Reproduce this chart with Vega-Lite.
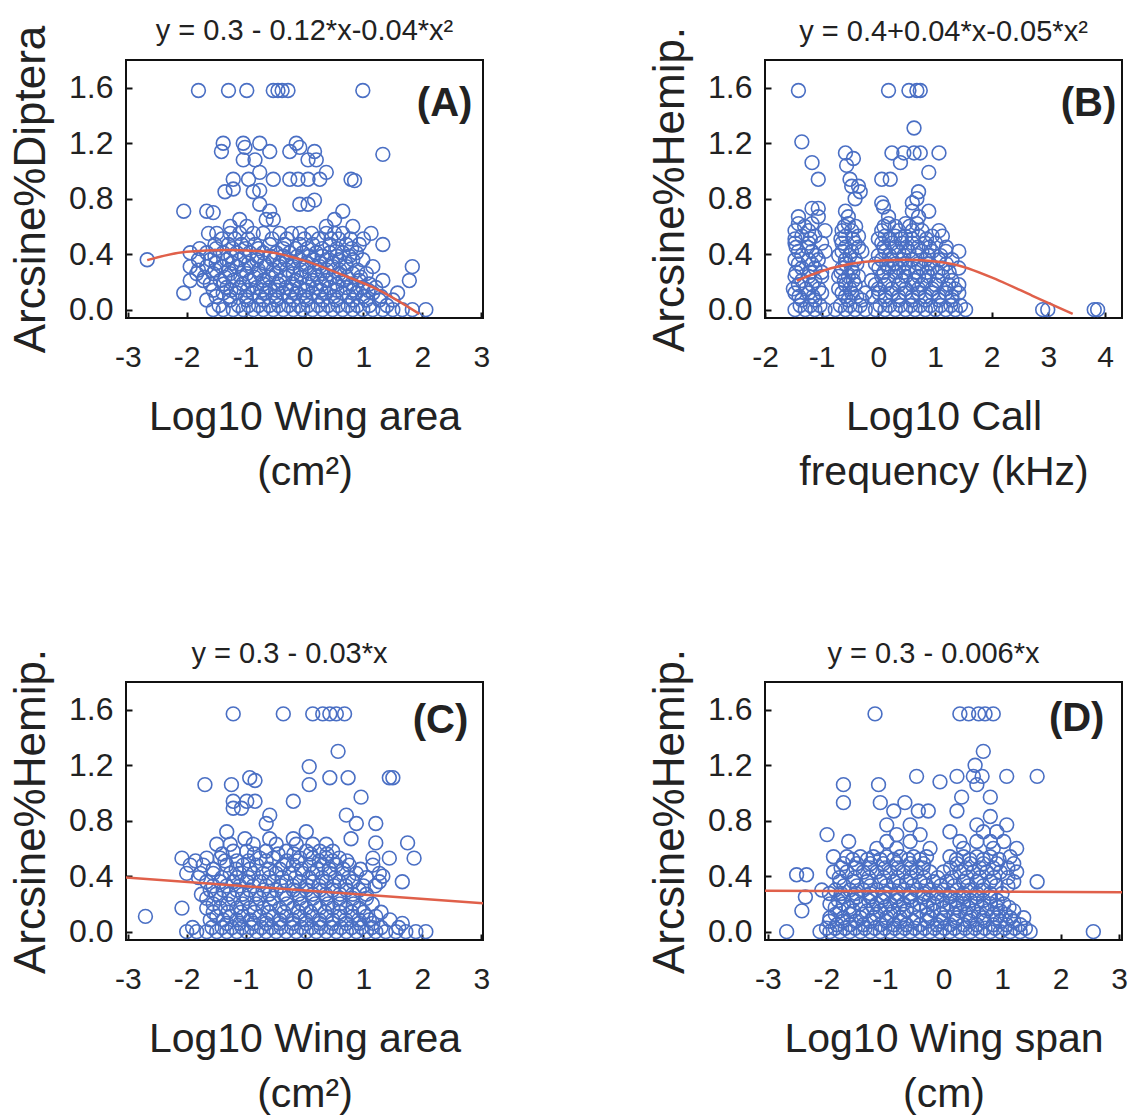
{
"$schema": "https://vega.github.io/schema/vega-lite/v6.json",
"background": "white",
"padding": {"left": 8, "top": 16, "right": 5, "bottom": 5},
"columns": 2,
"spacing": {"row": 364, "column": 282},
"bounds": "flush",
"datasets": {
"A": [
{"x":-1.8,"y":1.58},{"x":-1.29,"y":1.58},{"x":-0.98,"y":1.58},{"x":-0.53,"y":1.58},{"x":-0.45,"y":1.58},{"x":-0.38,"y":1.58},{"x":-0.28,"y":1.58},{"x":0.99,"y":1.58},
{"x":-1.38,"y":1.2},{"x":-1.04,"y":1.2},{"x":-0.76,"y":1.2},{"x":-0.14,"y":1.2},
{"x":-1.41,"y":1.14},{"x":-0.59,"y":1.14},{"x":-0.25,"y":1.14},{"x":0.17,"y":1.14},{"x":1.33,"y":1.12},
{"x":-1.01,"y":1.17},{"x":-0.08,"y":1.17},
{"x":-1.04,"y":1.08},{"x":-0.84,"y":1.08},{"x":0.06,"y":1.08},{"x":0.2,"y":1.08},
{"x":-0.76,"y":0.99},{"x":0.37,"y":0.99},
{"x":-1.21,"y":0.94},{"x":-0.95,"y":0.94},{"x":-0.53,"y":0.94},{"x":-0.25,"y":0.94},{"x":-0.11,"y":0.94},{"x":0.06,"y":0.94},{"x":0.26,"y":0.94},{"x":0.79,"y":0.94},{"x":0.85,"y":0.93},
{"x":-1.35,"y":0.85},{"x":-1.21,"y":0.87},{"x":-0.87,"y":0.85},{"x":-0.76,"y":0.86},
{"x":-0.76,"y":0.76},{"x":-0.08,"y":0.76},{"x":0.06,"y":0.76},{"x":0.17,"y":0.79},
{"x":-2.05,"y":0.71},{"x":-1.66,"y":0.71},{"x":-1.55,"y":0.7},{"x":-0.59,"y":0.71},{"x":0.65,"y":0.71},
{"x":-1.1,"y":0.65},{"x":-0.65,"y":0.65},{"x":-0.53,"y":0.65},{"x":0.51,"y":0.65},
{"x":-1.26,"y":0.6},{"x":-0.98,"y":0.6},{"x":0.37,"y":0.6},{"x":0.82,"y":0.6},
{"x":-1.63,"y":0.55},{"x":-1.49,"y":0.55},{"x":-1.26,"y":0.55},{"x":-1.1,"y":0.55},{"x":-0.87,"y":0.55},{"x":-0.7,"y":0.55},{"x":-0.42,"y":0.55},{"x":-0.22,"y":0.55},{"x":-0.08,"y":0.55},{"x":0.12,"y":0.55},{"x":0.37,"y":0.55},{"x":0.51,"y":0.55},{"x":0.65,"y":0.55},{"x":1.13,"y":0.55},
{"x":-1.52,"y":0.47},{"x":-1.29,"y":0.47},{"x":-1.07,"y":0.47},{"x":-0.84,"y":0.47},{"x":-0.59,"y":0.47},{"x":-0.34,"y":0.47},{"x":-0.08,"y":0.47},{"x":0.14,"y":0.47},{"x":0.43,"y":0.47},{"x":0.71,"y":0.47},{"x":0.93,"y":0.47},{"x":1.33,"y":0.47},
{"x":-1.94,"y":0.41},{"x":-1.66,"y":0.41},{"x":-1.38,"y":0.41},{"x":-1.15,"y":0.41},{"x":-0.93,"y":0.41},{"x":-0.7,"y":0.41},{"x":-0.48,"y":0.41},{"x":-0.25,"y":0.41},{"x":-0.03,"y":0.41},{"x":0.2,"y":0.41},{"x":0.43,"y":0.41},{"x":0.65,"y":0.41},{"x":0.88,"y":0.41},
{"x":-2.67,"y":0.36},{"x":-1.8,"y":0.36},{"x":-1.6,"y":0.36},{"x":-1.32,"y":0.36},{"x":-1.1,"y":0.36},{"x":-0.81,"y":0.36},{"x":-0.53,"y":0.36},{"x":-0.31,"y":0.36},{"x":-0.08,"y":0.36},{"x":0.14,"y":0.36},{"x":0.37,"y":0.36},{"x":0.59,"y":0.36},{"x":0.82,"y":0.36},{"x":0.99,"y":0.36},
{"x":-1.94,"y":0.31},{"x":-1.66,"y":0.31},{"x":-1.41,"y":0.31},{"x":-1.15,"y":0.31},{"x":-0.9,"y":0.31},{"x":-0.65,"y":0.31},{"x":-0.42,"y":0.31},{"x":-0.19,"y":0.31},{"x":0.03,"y":0.31},{"x":0.26,"y":0.31},{"x":0.48,"y":0.31},{"x":0.71,"y":0.31},{"x":1.16,"y":0.31},{"x":1.83,"y":0.31},
{"x":-1.83,"y":0.26},{"x":-1.55,"y":0.26},{"x":-1.26,"y":0.26},{"x":-0.98,"y":0.26},{"x":-0.76,"y":0.26},{"x":-0.48,"y":0.26},{"x":-0.19,"y":0.26},{"x":0.09,"y":0.26},{"x":0.31,"y":0.26},{"x":0.59,"y":0.26},{"x":0.82,"y":0.26},{"x":1.05,"y":0.26},
{"x":-1.94,"y":0.21},{"x":-1.72,"y":0.21},{"x":-1.43,"y":0.21},{"x":-1.21,"y":0.21},{"x":-0.93,"y":0.21},{"x":-0.7,"y":0.21},{"x":-0.42,"y":0.21},{"x":-0.14,"y":0.21},{"x":0.14,"y":0.21},{"x":0.37,"y":0.21},{"x":0.65,"y":0.21},{"x":0.93,"y":0.21},{"x":1.33,"y":0.21},{"x":1.78,"y":0.21},
{"x":-1.32,"y":0.16},{"x":-1.1,"y":0.16},{"x":-0.81,"y":0.16},{"x":-0.59,"y":0.16},{"x":-0.31,"y":0.16},{"x":-0.08,"y":0.16},{"x":0.2,"y":0.16},{"x":0.43,"y":0.16},{"x":0.71,"y":0.16},{"x":0.99,"y":0.16},{"x":1.21,"y":0.16},
{"x":-2.05,"y":0.12},{"x":-1.38,"y":0.12},{"x":-1.15,"y":0.12},{"x":-0.87,"y":0.12},{"x":-0.65,"y":0.12},{"x":-0.36,"y":0.12},{"x":-0.14,"y":0.12},{"x":0.14,"y":0.12},{"x":0.37,"y":0.12},{"x":0.65,"y":0.12},{"x":0.88,"y":0.12},{"x":1.16,"y":0.12},{"x":1.58,"y":0.12},
{"x":-1.66,"y":0.07},{"x":-1.26,"y":0.07},{"x":-0.98,"y":0.07},{"x":-0.7,"y":0.07},{"x":-0.48,"y":0.07},{"x":-0.19,"y":0.07},{"x":0.03,"y":0.07},{"x":0.31,"y":0.07},{"x":0.54,"y":0.07},{"x":0.82,"y":0.07},{"x":1.05,"y":0.07},{"x":1.27,"y":0.07},{"x":1.5,"y":0.07},
{"x":-1.55,"y":0},{"x":-1.38,"y":0},{"x":-1.21,"y":0},{"x":-1.04,"y":0},{"x":-0.87,"y":0},{"x":-0.7,"y":0},{"x":-0.53,"y":0},{"x":-0.36,"y":0},{"x":-0.19,"y":0},{"x":-0.03,"y":0},{"x":0.14,"y":0},{"x":0.31,"y":0},{"x":0.48,"y":0},{"x":0.65,"y":0},{"x":0.82,"y":0},{"x":0.99,"y":0},{"x":1.16,"y":0},{"x":1.33,"y":0},{"x":1.5,"y":0},{"x":1.66,"y":0},{"x":1.83,"y":0},{"x":2.06,"y":0},
{"x":-1.45,"y":0.03},{"x":-1.12,"y":0.03},{"x":-0.95,"y":0.03},{"x":-0.78,"y":0.03},{"x":-0.6,"y":0.03},{"x":-0.44,"y":0.03},{"x":-0.27,"y":0.03},{"x":-0.1,"y":0.03},{"x":0.06,"y":0.03},{"x":0.23,"y":0.03},{"x":0.4,"y":0.03},{"x":0.57,"y":0.03},{"x":0.74,"y":0.03},{"x":0.9,"y":0.03},{"x":1.1,"y":0.03},{"x":1.4,"y":0.03},
{"x":-1.5,"y":0.095},{"x":-1.27,"y":0.095},{"x":-1.0,"y":0.095},{"x":-0.76,"y":0.095},{"x":-0.5,"y":0.095},{"x":-0.25,"y":0.095},{"x":0.0,"y":0.095},{"x":0.25,"y":0.095},{"x":0.5,"y":0.095},{"x":0.76,"y":0.095},{"x":1.0,"y":0.095},{"x":1.3,"y":0.095},
{"x":-1.55,"y":0.14},{"x":-1.25,"y":0.14},{"x":-0.97,"y":0.14},{"x":-0.72,"y":0.14},{"x":-0.47,"y":0.14},{"x":-0.22,"y":0.14},{"x":0.03,"y":0.14},{"x":0.28,"y":0.14},{"x":0.55,"y":0.14},{"x":0.83,"y":0.14},{"x":1.08,"y":0.14},
{"x":-1.6,"y":0.185},{"x":-1.37,"y":0.185},{"x":-1.05,"y":0.185},{"x":-0.7,"y":0.185},{"x":-0.45,"y":0.185},{"x":-0.2,"y":0.185},{"x":0.05,"y":0.185},{"x":0.3,"y":0.185},{"x":0.55,"y":0.185},{"x":0.8,"y":0.185},{"x":1.1,"y":0.185},
{"x":-1.7,"y":0.235},{"x":-1.35,"y":0.235},{"x":-1.08,"y":0.235},{"x":-0.85,"y":0.235},{"x":-0.6,"y":0.235},{"x":-0.33,"y":0.235},{"x":-0.05,"y":0.235},{"x":0.22,"y":0.235},{"x":0.48,"y":0.235},{"x":0.72,"y":0.235},{"x":0.95,"y":0.235},
{"x":-1.8,"y":0.285},{"x":-1.52,"y":0.285},{"x":-1.28,"y":0.285},{"x":-1.02,"y":0.285},{"x":-0.78,"y":0.285},{"x":-0.53,"y":0.285},{"x":-0.3,"y":0.285},{"x":-0.06,"y":0.285},{"x":0.17,"y":0.285},{"x":0.38,"y":0.285},{"x":0.6,"y":0.285},{"x":0.9,"y":0.285},
{"x":-1.5,"y":0.335},{"x":-1.22,"y":0.335},{"x":-0.95,"y":0.335},{"x":-0.68,"y":0.335},{"x":-0.42,"y":0.335},{"x":-0.2,"y":0.335},{"x":0.03,"y":0.335},{"x":0.26,"y":0.335},{"x":0.48,"y":0.335},{"x":0.7,"y":0.335},
{"x":-1.52,"y":0.385},{"x":-1.25,"y":0.385},{"x":-1.02,"y":0.385},{"x":-0.8,"y":0.385},{"x":-0.58,"y":0.385},{"x":-0.36,"y":0.385},{"x":-0.12,"y":0.385},{"x":0.08,"y":0.385},{"x":0.3,"y":0.385},{"x":0.55,"y":0.385},{"x":0.76,"y":0.385},
{"x":-1.78,"y":0.44},{"x":-1.5,"y":0.44},{"x":-1.22,"y":0.44},{"x":-1.0,"y":0.44},{"x":-0.78,"y":0.44},{"x":-0.36,"y":0.44},{"x":-0.15,"y":0.44},{"x":0.05,"y":0.44},{"x":0.3,"y":0.44},{"x":0.55,"y":0.44},{"x":0.8,"y":0.44},
{"x":-1.4,"y":0.51},{"x":-1.18,"y":0.51},{"x":-0.96,"y":0.51},{"x":-0.55,"y":0.51},{"x":-0.3,"y":0.51},{"x":0.0,"y":0.51},{"x":0.24,"y":0.51},{"x":0.45,"y":0.51},{"x":0.58,"y":0.51},{"x":0.78,"y":0.51},{"x":1.0,"y":0.51}
],
"B": [
{"x":-1.41,"y":1.58},{"x":0.18,"y":1.58},{"x":0.54,"y":1.58},{"x":0.68,"y":1.58},{"x":0.74,"y":1.58},
{"x":0.63,"y":1.31},{"x":-1.35,"y":1.21},
{"x":-0.58,"y":1.13},{"x":0.24,"y":1.13},{"x":0.45,"y":1.13},{"x":0.63,"y":1.13},{"x":0.74,"y":1.13},{"x":1.07,"y":1.13},
{"x":-0.44,"y":1.09},{"x":-0.56,"y":1.04},{"x":-1.17,"y":1.06},{"x":0.39,"y":1.06},
{"x":0.89,"y":0.99},
{"x":-1.06,"y":0.94},{"x":-0.5,"y":0.94},{"x":0.06,"y":0.94},{"x":0.21,"y":0.94},
{"x":-0.47,"y":0.89},{"x":-0.35,"y":0.89},
{"x":-0.32,"y":0.85},{"x":0.71,"y":0.85},
{"x":-0.41,"y":0.8},{"x":0.68,"y":0.8},
{"x":0.06,"y":0.77},{"x":0.6,"y":0.77},{"x":0.09,"y":0.74},
{"x":-1.06,"y":0.73},{"x":-1.17,"y":0.73},
{"x":-0.58,"y":0.71},{"x":0.6,"y":0.71},{"x":0.89,"y":0.71},
{"x":-1.41,"y":0.67},{"x":-1.06,"y":0.67},{"x":-0.53,"y":0.67},{"x":0.18,"y":0.67},{"x":0.71,"y":0.67},
{"x":-1.41,"y":0.62},{"x":-1.17,"y":0.62},{"x":-0.53,"y":0.62},{"x":0.18,"y":0.62},{"x":0.48,"y":0.62},{"x":0.68,"y":0.62},
{"x":-1.47,"y":0.57},{"x":-1.23,"y":0.57},{"x":-0.94,"y":0.57},{"x":-0.64,"y":0.57},{"x":-0.47,"y":0.57},{"x":0.06,"y":0.57},{"x":0.36,"y":0.57},{"x":0.6,"y":0.57},{"x":0.77,"y":0.57},{"x":1.07,"y":0.57},
{"x":-1.35,"y":0.53},{"x":-1.12,"y":0.53},{"x":-0.58,"y":0.53},{"x":-0.35,"y":0.53},{"x":0.12,"y":0.53},{"x":0.3,"y":0.53},{"x":0.48,"y":0.53},{"x":0.71,"y":0.53},{"x":0.95,"y":0.53},{"x":1.13,"y":0.53},
{"x":-1.47,"y":0.48},{"x":-1.23,"y":0.48},{"x":-1.0,"y":0.48},{"x":-0.64,"y":0.48},{"x":-0.41,"y":0.48},{"x":0.06,"y":0.48},{"x":0.24,"y":0.48},{"x":0.42,"y":0.48},{"x":0.6,"y":0.48},{"x":0.83,"y":0.48},{"x":1.01,"y":0.48},
{"x":-1.41,"y":0.42},{"x":-1.17,"y":0.42},{"x":-0.94,"y":0.42},{"x":-0.64,"y":0.42},{"x":-0.47,"y":0.42},{"x":-0.29,"y":0.42},{"x":0.12,"y":0.42},{"x":0.36,"y":0.42},{"x":0.54,"y":0.42},{"x":0.77,"y":0.42},{"x":0.95,"y":0.42},{"x":1.19,"y":0.42},{"x":1.42,"y":0.42},
{"x":-1.47,"y":0.36},{"x":-1.23,"y":0.36},{"x":-1.06,"y":0.36},{"x":-0.58,"y":0.36},{"x":-0.41,"y":0.36},{"x":0.06,"y":0.36},{"x":0.24,"y":0.36},{"x":0.42,"y":0.36},{"x":0.6,"y":0.36},{"x":0.83,"y":0.36},{"x":1.07,"y":0.36},{"x":1.3,"y":0.36},
{"x":-1.35,"y":0.3},{"x":-1.12,"y":0.3},{"x":-0.64,"y":0.3},{"x":-0.47,"y":0.3},{"x":0.01,"y":0.3},{"x":0.18,"y":0.3},{"x":0.36,"y":0.3},{"x":0.54,"y":0.3},{"x":0.77,"y":0.3},{"x":0.95,"y":0.3},{"x":1.13,"y":0.3},{"x":1.42,"y":0.3},
{"x":-1.47,"y":0.24},{"x":-1.23,"y":0.24},{"x":-1.0,"y":0.24},{"x":-0.7,"y":0.24},{"x":-0.53,"y":0.24},{"x":-0.35,"y":0.24},{"x":0.06,"y":0.24},{"x":0.3,"y":0.24},{"x":0.48,"y":0.24},{"x":0.71,"y":0.24},{"x":0.89,"y":0.24},{"x":1.13,"y":0.24},
{"x":-1.41,"y":0.18},{"x":-1.17,"y":0.18},{"x":-0.58,"y":0.18},{"x":-0.41,"y":0.18},{"x":-0.05,"y":0.18},{"x":0.12,"y":0.18},{"x":0.36,"y":0.18},{"x":0.6,"y":0.18},{"x":0.77,"y":0.18},{"x":1.01,"y":0.18},{"x":1.24,"y":0.18},{"x":1.42,"y":0.18},
{"x":-1.47,"y":0.12},{"x":-1.23,"y":0.12},{"x":-1.0,"y":0.12},{"x":-0.64,"y":0.12},{"x":-0.47,"y":0.12},{"x":-0.23,"y":0.12},{"x":0.01,"y":0.12},{"x":0.24,"y":0.12},{"x":0.48,"y":0.12},{"x":0.71,"y":0.12},{"x":0.95,"y":0.12},{"x":1.19,"y":0.12},{"x":1.42,"y":0.12},
{"x":-1.35,"y":0.07},{"x":-1.12,"y":0.07},{"x":-0.53,"y":0.07},{"x":-0.29,"y":0.07},{"x":0.12,"y":0.07},{"x":0.36,"y":0.07},{"x":0.6,"y":0.07},{"x":0.83,"y":0.07},{"x":1.07,"y":0.07},{"x":1.3,"y":0.07},
{"x":-1.47,"y":0},{"x":-1.29,"y":0},{"x":-1.12,"y":0},{"x":-0.94,"y":0},{"x":-0.76,"y":0},{"x":-0.58,"y":0},{"x":-0.41,"y":0},{"x":-0.23,"y":0},{"x":-0.05,"y":0},{"x":0.12,"y":0},{"x":0.3,"y":0},{"x":0.48,"y":0},{"x":0.65,"y":0},{"x":0.83,"y":0},{"x":1.01,"y":0},{"x":1.19,"y":0},{"x":1.36,"y":0},{"x":1.54,"y":0},{"x":2.9,"y":0},{"x":2.99,"y":0},{"x":3.81,"y":0},{"x":3.87,"y":0},
{"x":-1.38,"y":0.03},{"x":-1.2,"y":0.03},{"x":-1.03,"y":0.03},{"x":-0.67,"y":0.03},{"x":-0.5,"y":0.03},{"x":-0.32,"y":0.03},{"x":0.03,"y":0.03},{"x":0.2,"y":0.03},{"x":0.39,"y":0.03},{"x":0.57,"y":0.03},{"x":0.74,"y":0.03},{"x":0.92,"y":0.03},{"x":1.1,"y":0.03},{"x":1.28,"y":0.03},{"x":1.45,"y":0.03},
{"x":-1.4,"y":0.095},{"x":-1.15,"y":0.095},{"x":-0.58,"y":0.095},{"x":-0.38,"y":0.095},{"x":-0.1,"y":0.095},{"x":0.12,"y":0.095},{"x":0.36,"y":0.095},{"x":0.6,"y":0.095},{"x":0.83,"y":0.095},{"x":1.07,"y":0.095},{"x":1.3,"y":0.095},
{"x":-1.5,"y":0.15},{"x":-1.28,"y":0.15},{"x":-1.05,"y":0.15},{"x":-0.7,"y":0.15},{"x":-0.5,"y":0.15},{"x":0.0,"y":0.15},{"x":0.24,"y":0.15},{"x":0.48,"y":0.15},{"x":0.71,"y":0.15},{"x":0.95,"y":0.15},{"x":1.2,"y":0.15},{"x":1.35,"y":0.15},
{"x":-1.35,"y":0.21},{"x":-1.12,"y":0.21},{"x":-0.6,"y":0.21},{"x":-0.44,"y":0.21},{"x":-0.12,"y":0.21},{"x":0.18,"y":0.21},{"x":0.42,"y":0.21},{"x":0.64,"y":0.21},{"x":0.83,"y":0.21},{"x":1.05,"y":0.21},{"x":1.3,"y":0.21},
{"x":-1.45,"y":0.27},{"x":-1.2,"y":0.27},{"x":-1.0,"y":0.27},{"x":-0.66,"y":0.27},{"x":-0.45,"y":0.27},{"x":0.1,"y":0.27},{"x":0.3,"y":0.27},{"x":0.45,"y":0.27},{"x":0.66,"y":0.27},{"x":0.86,"y":0.27},{"x":1.05,"y":0.27},{"x":1.25,"y":0.27},
{"x":-1.41,"y":0.33},{"x":-1.17,"y":0.33},{"x":-0.58,"y":0.33},{"x":-0.38,"y":0.33},{"x":-0.05,"y":0.33},{"x":0.15,"y":0.33},{"x":0.3,"y":0.33},{"x":0.48,"y":0.33},{"x":0.7,"y":0.33},{"x":0.9,"y":0.33},{"x":1.2,"y":0.33},
{"x":-1.35,"y":0.39},{"x":-1.1,"y":0.39},{"x":-0.7,"y":0.39},{"x":-0.5,"y":0.39},{"x":0.0,"y":0.39},{"x":0.2,"y":0.39},{"x":0.45,"y":0.39},{"x":0.68,"y":0.39},{"x":0.88,"y":0.39},{"x":1.1,"y":0.39},
{"x":-1.45,"y":0.45},{"x":-1.25,"y":0.45},{"x":-0.58,"y":0.45},{"x":-0.35,"y":0.45},{"x":0.1,"y":0.45},{"x":0.3,"y":0.45},{"x":0.5,"y":0.45},{"x":0.7,"y":0.45},{"x":0.9,"y":0.45},{"x":1.2,"y":0.45},
{"x":-1.47,"y":0.51},{"x":-1.2,"y":0.51},{"x":-0.66,"y":0.51},{"x":-0.45,"y":0.51},{"x":0.0,"y":0.51},{"x":0.2,"y":0.51},{"x":0.4,"y":0.51},{"x":0.6,"y":0.51},{"x":0.85,"y":0.51},
{"x":-1.3,"y":0.6},{"x":-0.6,"y":0.6},{"x":-0.4,"y":0.6},{"x":0.1,"y":0.6},{"x":0.3,"y":0.6},{"x":0.55,"y":0.6}
],
"C": [
{"x":-1.21,"y":1.57},{"x":-0.36,"y":1.57},{"x":0.14,"y":1.57},{"x":0.31,"y":1.57},{"x":0.43,"y":1.57},{"x":0.54,"y":1.57},{"x":0.68,"y":1.57},
{"x":0.57,"y":1.3},{"x":0.08,"y":1.19},
{"x":-0.93,"y":1.11},{"x":-0.84,"y":1.09},{"x":0.43,"y":1.11},{"x":0.74,"y":1.11},{"x":1.44,"y":1.11},{"x":1.5,"y":1.11},
{"x":-1.69,"y":1.06},{"x":-1.24,"y":1.06},{"x":0.08,"y":1.06},
{"x":0.96,"y":0.97},
{"x":-1.21,"y":0.94},{"x":-0.98,"y":0.94},{"x":-0.84,"y":0.94},{"x":-0.19,"y":0.94},
{"x":-1.21,"y":0.89},{"x":-1.07,"y":0.89},
{"x":-0.59,"y":0.84},{"x":0.71,"y":0.84},
{"x":-0.65,"y":0.78},{"x":0.88,"y":0.78},{"x":1.21,"y":0.78},
{"x":-1.32,"y":0.72},{"x":0.03,"y":0.72},
{"x":-1.01,"y":0.67},{"x":-0.59,"y":0.67},{"x":-0.19,"y":0.67},{"x":0.79,"y":0.67},
{"x":1.21,"y":0.64},{"x":1.75,"y":0.64},
{"x":-1.49,"y":0.63},{"x":-1.26,"y":0.63},{"x":-0.87,"y":0.63},{"x":-0.48,"y":0.63},{"x":-0.14,"y":0.63},{"x":0.14,"y":0.63},{"x":0.37,"y":0.63},
{"x":-1.21,"y":0.58},{"x":-0.98,"y":0.58},{"x":-0.65,"y":0.58},{"x":-0.31,"y":0.58},{"x":0.03,"y":0.58},{"x":0.26,"y":0.58},{"x":0.48,"y":0.58},
{"x":-2.08,"y":0.53},{"x":-1.66,"y":0.53},{"x":-1.43,"y":0.53},{"x":-0.76,"y":0.53},{"x":-0.53,"y":0.53},{"x":-0.08,"y":0.53},{"x":0.14,"y":0.53},{"x":0.37,"y":0.53},{"x":0.59,"y":0.53},{"x":1.16,"y":0.53},{"x":1.44,"y":0.53},{"x":1.86,"y":0.53},
{"x":-1.94,"y":0.48},{"x":-1.72,"y":0.48},{"x":-1.32,"y":0.48},{"x":-1.04,"y":0.48},{"x":-0.81,"y":0.48},{"x":-0.36,"y":0.48},{"x":-0.19,"y":0.48},{"x":0.09,"y":0.48},{"x":0.31,"y":0.48},{"x":0.54,"y":0.48},{"x":0.76,"y":0.48},{"x":1.16,"y":0.48},
{"x":-2.0,"y":0.42},{"x":-1.77,"y":0.42},{"x":-1.55,"y":0.42},{"x":-1.26,"y":0.42},{"x":-1.1,"y":0.42},{"x":-0.87,"y":0.42},{"x":-0.7,"y":0.42},{"x":-0.48,"y":0.42},{"x":-0.25,"y":0.42},{"x":-0.03,"y":0.42},{"x":0.14,"y":0.42},{"x":0.43,"y":0.42},{"x":0.65,"y":0.42},{"x":0.88,"y":0.42},{"x":1.27,"y":0.42},{"x":1.33,"y":0.4},
{"x":-1.66,"y":0.36},{"x":-1.43,"y":0.36},{"x":-1.21,"y":0.36},{"x":-0.98,"y":0.36},{"x":-0.76,"y":0.36},{"x":-0.53,"y":0.36},{"x":-0.31,"y":0.36},{"x":-0.08,"y":0.36},{"x":0.14,"y":0.36},{"x":0.37,"y":0.36},{"x":0.59,"y":0.36},{"x":0.82,"y":0.36},{"x":1.27,"y":0.36},{"x":1.66,"y":0.36},
{"x":-1.6,"y":0.3},{"x":-1.38,"y":0.3},{"x":-1.15,"y":0.3},{"x":-0.93,"y":0.3},{"x":-0.7,"y":0.3},{"x":-0.48,"y":0.3},{"x":-0.19,"y":0.3},{"x":0.03,"y":0.3},{"x":0.26,"y":0.3},{"x":0.48,"y":0.3},{"x":0.71,"y":0.3},{"x":0.93,"y":0.3},
{"x":-1.66,"y":0.24},{"x":-1.43,"y":0.24},{"x":-1.21,"y":0.24},{"x":-0.98,"y":0.24},{"x":-0.76,"y":0.24},{"x":-0.53,"y":0.24},{"x":-0.31,"y":0.24},{"x":-0.08,"y":0.24},{"x":0.14,"y":0.24},{"x":0.37,"y":0.24},{"x":0.59,"y":0.24},{"x":0.82,"y":0.24},{"x":1.05,"y":0.24},
{"x":-2.08,"y":0.17},{"x":-1.66,"y":0.17},{"x":-1.43,"y":0.17},{"x":-1.15,"y":0.17},{"x":-0.93,"y":0.17},{"x":-0.7,"y":0.17},{"x":-0.42,"y":0.17},{"x":-0.19,"y":0.17},{"x":0.03,"y":0.17},{"x":0.26,"y":0.17},{"x":0.48,"y":0.17},{"x":0.71,"y":0.17},{"x":0.93,"y":0.17},
{"x":-2.7,"y":0.11},{"x":-1.49,"y":0.11},{"x":-1.26,"y":0.11},{"x":-1.04,"y":0.11},{"x":-0.76,"y":0.11},{"x":-0.53,"y":0.11},{"x":-0.31,"y":0.11},{"x":-0.08,"y":0.11},{"x":0.14,"y":0.11},{"x":0.37,"y":0.11},{"x":0.59,"y":0.11},{"x":0.82,"y":0.11},{"x":1.05,"y":0.11},{"x":1.21,"y":0.11},
{"x":-1.32,"y":0.06},{"x":-1.1,"y":0.06},{"x":-0.87,"y":0.06},{"x":-0.65,"y":0.06},{"x":-0.42,"y":0.06},{"x":-0.19,"y":0.06},{"x":0.03,"y":0.06},{"x":0.26,"y":0.06},{"x":0.48,"y":0.06},{"x":0.71,"y":0.06},{"x":0.93,"y":0.06},{"x":1.16,"y":0.06},{"x":1.66,"y":0.06},
{"x":-2.0,"y":0},{"x":-1.83,"y":0},{"x":-1.66,"y":0},{"x":-1.49,"y":0},{"x":-1.32,"y":0},{"x":-1.15,"y":0},{"x":-0.98,"y":0},{"x":-0.81,"y":0},{"x":-0.65,"y":0},{"x":-0.48,"y":0},{"x":-0.31,"y":0},{"x":-0.14,"y":0},{"x":0.03,"y":0},{"x":0.2,"y":0},{"x":0.37,"y":0},{"x":0.54,"y":0},{"x":0.71,"y":0},{"x":0.88,"y":0},{"x":1.05,"y":0},{"x":1.21,"y":0},{"x":1.38,"y":0},{"x":1.55,"y":0},{"x":1.72,"y":0},{"x":1.89,"y":0},{"x":2.06,"y":0},
{"x":-1.9,"y":0.03},{"x":-1.57,"y":0.03},{"x":-1.4,"y":0.03},{"x":-1.23,"y":0.03},{"x":-1.06,"y":0.03},{"x":-0.9,"y":0.03},{"x":-0.73,"y":0.03},{"x":-0.56,"y":0.03},{"x":-0.4,"y":0.03},{"x":-0.22,"y":0.03},{"x":-0.05,"y":0.03},{"x":0.12,"y":0.03},{"x":0.28,"y":0.03},{"x":0.45,"y":0.03},{"x":0.62,"y":0.03},{"x":0.8,"y":0.03},{"x":0.97,"y":0.03},{"x":1.14,"y":0.03},{"x":1.3,"y":0.03},{"x":1.6,"y":0.03},
{"x":-1.6,"y":0.085},{"x":-1.38,"y":0.085},{"x":-1.15,"y":0.085},{"x":-0.92,"y":0.085},{"x":-0.64,"y":0.085},{"x":-0.42,"y":0.085},{"x":-0.2,"y":0.085},{"x":0.02,"y":0.085},{"x":0.25,"y":0.085},{"x":0.48,"y":0.085},{"x":0.7,"y":0.085},{"x":0.92,"y":0.085},{"x":1.1,"y":0.085},{"x":1.45,"y":0.085},
{"x":-1.55,"y":0.14},{"x":-1.3,"y":0.14},{"x":-1.08,"y":0.14},{"x":-0.85,"y":0.14},{"x":-0.6,"y":0.14},{"x":-0.35,"y":0.14},{"x":-0.1,"y":0.14},{"x":0.1,"y":0.14},{"x":0.35,"y":0.14},{"x":0.6,"y":0.14},{"x":0.8,"y":0.14},{"x":1.0,"y":0.14},{"x":1.3,"y":0.14},
{"x":-1.55,"y":0.2},{"x":-1.3,"y":0.2},{"x":-1.05,"y":0.2},{"x":-0.82,"y":0.2},{"x":-0.58,"y":0.2},{"x":-0.3,"y":0.2},{"x":-0.05,"y":0.2},{"x":0.18,"y":0.2},{"x":0.4,"y":0.2},{"x":0.6,"y":0.2},{"x":0.83,"y":0.2},{"x":1.15,"y":0.2},
{"x":-1.75,"y":0.27},{"x":-1.5,"y":0.27},{"x":-1.28,"y":0.27},{"x":-1.05,"y":0.27},{"x":-0.82,"y":0.27},{"x":-0.6,"y":0.27},{"x":-0.35,"y":0.27},{"x":-0.1,"y":0.27},{"x":0.14,"y":0.27},{"x":0.36,"y":0.27},{"x":0.6,"y":0.27},{"x":0.82,"y":0.27},{"x":1.05,"y":0.27},
{"x":-1.55,"y":0.33},{"x":-1.32,"y":0.33},{"x":-1.1,"y":0.33},{"x":-0.87,"y":0.33},{"x":-0.65,"y":0.33},{"x":-0.4,"y":0.33},{"x":-0.2,"y":0.33},{"x":0.05,"y":0.33},{"x":0.25,"y":0.33},{"x":0.5,"y":0.33},{"x":0.7,"y":0.33},{"x":1.0,"y":0.33},{"x":1.2,"y":0.33},
{"x":-1.8,"y":0.39},{"x":-1.4,"y":0.39},{"x":-1.15,"y":0.39},{"x":-0.95,"y":0.39},{"x":-0.6,"y":0.39},{"x":-0.38,"y":0.39},{"x":-0.15,"y":0.39},{"x":0.08,"y":0.39},{"x":0.3,"y":0.39},{"x":0.52,"y":0.39},{"x":0.75,"y":0.39},{"x":1.05,"y":0.39},
{"x":-1.55,"y":0.45},{"x":-1.16,"y":0.45},{"x":-0.93,"y":0.45},{"x":-0.6,"y":0.45},{"x":-0.42,"y":0.45},{"x":-0.05,"y":0.45},{"x":0.22,"y":0.45},{"x":0.42,"y":0.45},{"x":0.66,"y":0.45},{"x":0.95,"y":0.45},
{"x":-1.85,"y":0.51},{"x":-1.35,"y":0.51},{"x":-1.15,"y":0.51},{"x":-0.95,"y":0.51},{"x":-0.65,"y":0.51},{"x":-0.3,"y":0.51},{"x":-0.12,"y":0.51},{"x":0.25,"y":0.51},{"x":0.48,"y":0.51},{"x":0.72,"y":0.51},
{"x":-1.4,"y":0.56},{"x":-0.85,"y":0.56},{"x":-0.45,"y":0.56},{"x":-0.18,"y":0.56},{"x":0.1,"y":0.56},{"x":0.38,"y":0.56}
],
"D": [
{"x":-1.17,"y":1.57},{"x":0.28,"y":1.57},{"x":0.43,"y":1.57},{"x":0.6,"y":1.57},{"x":0.71,"y":1.57},{"x":0.85,"y":1.57},
{"x":0.68,"y":1.3},{"x":0.54,"y":1.2},
{"x":-0.46,"y":1.12},{"x":0.23,"y":1.12},{"x":0.51,"y":1.12},{"x":0.66,"y":1.12},{"x":1.08,"y":1.12},{"x":1.6,"y":1.12},
{"x":-0.06,"y":1.08},
{"x":-1.71,"y":1.06},{"x":-1.11,"y":1.06},{"x":0.57,"y":1.06},
{"x":0.31,"y":0.97},{"x":0.8,"y":0.97},
{"x":-1.71,"y":0.93},{"x":-1.08,"y":0.93},{"x":-0.66,"y":0.93},
{"x":-0.85,"y":0.87},{"x":-0.43,"y":0.87},{"x":-0.26,"y":0.87},{"x":0.23,"y":0.87},
{"x":0.8,"y":0.83},
{"x":-0.97,"y":0.77},{"x":-0.57,"y":0.77},{"x":0.57,"y":0.77},{"x":1.08,"y":0.77},
{"x":0.11,"y":0.72},{"x":0.68,"y":0.72},{"x":0.91,"y":0.72},
{"x":-1.99,"y":0.7},{"x":-0.8,"y":0.7},{"x":-0.4,"y":0.7},
{"x":-1.62,"y":0.65},{"x":-0.97,"y":0.65},{"x":-0.57,"y":0.65},{"x":0.28,"y":0.65},{"x":0.57,"y":0.65},{"x":0.8,"y":0.65},{"x":1.03,"y":0.65},
{"x":-1.14,"y":0.6},{"x":-0.8,"y":0.6},{"x":-0.23,"y":0.6},{"x":0.34,"y":0.6},{"x":0.85,"y":0.6},{"x":1.25,"y":0.6},
{"x":-1.88,"y":0.54},{"x":-1.65,"y":0.54},{"x":-1.42,"y":0.54},{"x":-1.2,"y":0.54},{"x":-0.97,"y":0.54},{"x":-0.74,"y":0.54},{"x":-0.51,"y":0.54},{"x":-0.29,"y":0.54},{"x":0.11,"y":0.54},{"x":0.34,"y":0.54},{"x":0.57,"y":0.54},{"x":0.8,"y":0.54},{"x":1.14,"y":0.54},
{"x":-1.71,"y":0.49},{"x":-1.48,"y":0.49},{"x":-1.25,"y":0.49},{"x":-1.03,"y":0.49},{"x":-0.8,"y":0.49},{"x":-0.57,"y":0.49},{"x":-0.34,"y":0.49},{"x":0.23,"y":0.49},{"x":0.46,"y":0.49},{"x":0.68,"y":0.49},{"x":0.91,"y":0.49},{"x":1.2,"y":0.49},
{"x":-1.88,"y":0.43},{"x":-1.65,"y":0.43},{"x":-1.37,"y":0.43},{"x":-1.14,"y":0.43},{"x":-0.91,"y":0.43},{"x":-0.68,"y":0.43},{"x":-0.46,"y":0.43},{"x":-0.23,"y":0.43},{"x":0.0,"y":0.43},{"x":0.28,"y":0.43},{"x":0.51,"y":0.43},{"x":0.74,"y":0.43},{"x":0.97,"y":0.43},{"x":1.25,"y":0.43},
{"x":-2.51,"y":0.41},{"x":-2.34,"y":0.41},
{"x":-1.77,"y":0.36},{"x":-1.54,"y":0.36},{"x":-1.31,"y":0.36},{"x":-1.08,"y":0.36},{"x":-0.85,"y":0.36},{"x":-0.63,"y":0.36},{"x":-0.4,"y":0.36},{"x":-0.17,"y":0.36},{"x":0.06,"y":0.36},{"x":0.34,"y":0.36},{"x":0.57,"y":0.36},{"x":0.8,"y":0.36},{"x":1.2,"y":0.36},{"x":1.6,"y":0.36},
{"x":-2.08,"y":0.3},{"x":-1.85,"y":0.3},{"x":-1.6,"y":0.3},{"x":-1.37,"y":0.3},{"x":-1.14,"y":0.3},{"x":-0.91,"y":0.3},{"x":-0.68,"y":0.3},{"x":-0.46,"y":0.3},{"x":-0.23,"y":0.3},{"x":0.0,"y":0.3},{"x":0.23,"y":0.3},{"x":0.46,"y":0.3},{"x":0.68,"y":0.3},
{"x":-2.36,"y":0.25},{"x":-1.71,"y":0.25},{"x":-1.48,"y":0.25},{"x":-1.25,"y":0.25},{"x":-1.03,"y":0.25},{"x":-0.8,"y":0.25},{"x":-0.57,"y":0.25},{"x":-0.34,"y":0.25},{"x":-0.11,"y":0.25},{"x":0.11,"y":0.25},{"x":0.34,"y":0.25},{"x":0.57,"y":0.25},{"x":0.8,"y":0.25},
{"x":-1.94,"y":0.2},{"x":-1.71,"y":0.2},{"x":-1.42,"y":0.2},{"x":-1.14,"y":0.2},{"x":-0.91,"y":0.2},{"x":-0.68,"y":0.2},{"x":-0.4,"y":0.2},{"x":-0.17,"y":0.2},{"x":0.11,"y":0.2},{"x":0.34,"y":0.2},{"x":0.57,"y":0.2},{"x":0.8,"y":0.2},{"x":1.03,"y":0.2},
{"x":-2.42,"y":0.15},{"x":-1.77,"y":0.15},{"x":-1.54,"y":0.15},{"x":-1.31,"y":0.15},{"x":-1.08,"y":0.15},{"x":-0.85,"y":0.15},{"x":-0.63,"y":0.15},{"x":-0.4,"y":0.15},{"x":-0.17,"y":0.15},{"x":0.06,"y":0.15},{"x":0.28,"y":0.15},{"x":0.51,"y":0.15},{"x":0.74,"y":0.15},{"x":0.97,"y":0.15},{"x":1.2,"y":0.15},
{"x":-1.94,"y":0.1},{"x":-1.71,"y":0.1},{"x":-1.42,"y":0.1},{"x":-1.2,"y":0.1},{"x":-0.97,"y":0.1},{"x":-0.74,"y":0.1},{"x":-0.46,"y":0.1},{"x":-0.23,"y":0.1},{"x":0.0,"y":0.1},{"x":0.23,"y":0.1},{"x":0.46,"y":0.1},{"x":0.68,"y":0.1},{"x":0.91,"y":0.1},{"x":1.14,"y":0.1},{"x":1.37,"y":0.1},
{"x":-1.82,"y":0.05},{"x":-1.6,"y":0.05},{"x":-1.37,"y":0.05},{"x":-1.08,"y":0.05},{"x":-0.85,"y":0.05},{"x":-0.63,"y":0.05},{"x":-0.4,"y":0.05},{"x":-0.11,"y":0.05},{"x":0.11,"y":0.05},{"x":0.34,"y":0.05},{"x":0.57,"y":0.05},{"x":0.85,"y":0.05},{"x":1.08,"y":0.05},{"x":1.31,"y":0.05},
{"x":-2.68,"y":0},{"x":-2.11,"y":0},{"x":-1.94,"y":0},{"x":-1.77,"y":0},{"x":-1.6,"y":0},{"x":-1.42,"y":0},{"x":-1.25,"y":0},{"x":-1.08,"y":0},{"x":-0.91,"y":0},{"x":-0.74,"y":0},{"x":-0.57,"y":0},{"x":-0.4,"y":0},{"x":-0.23,"y":0},{"x":-0.06,"y":0},{"x":0.11,"y":0},{"x":0.28,"y":0},{"x":0.46,"y":0},{"x":0.63,"y":0},{"x":0.8,"y":0},{"x":0.97,"y":0},{"x":1.14,"y":0},{"x":1.31,"y":0},{"x":1.48,"y":0},{"x":2.56,"y":0},
{"x":-2.0,"y":0.025},{"x":-1.85,"y":0.025},{"x":-1.68,"y":0.025},{"x":-1.51,"y":0.025},{"x":-1.34,"y":0.025},{"x":-1.17,"y":0.025},{"x":-1.0,"y":0.025},{"x":-0.83,"y":0.025},{"x":-0.66,"y":0.025},{"x":-0.49,"y":0.025},{"x":-0.32,"y":0.025},{"x":-0.15,"y":0.025},{"x":0.02,"y":0.025},{"x":0.19,"y":0.025},{"x":0.37,"y":0.025},{"x":0.54,"y":0.025},{"x":0.71,"y":0.025},{"x":0.88,"y":0.025},{"x":1.05,"y":0.025},{"x":1.22,"y":0.025},{"x":1.4,"y":0.025},
{"x":-1.95,"y":0.075},{"x":-1.72,"y":0.075},{"x":-1.5,"y":0.075},{"x":-1.25,"y":0.075},{"x":-0.98,"y":0.075},{"x":-0.74,"y":0.075},{"x":-0.52,"y":0.075},{"x":-0.28,"y":0.075},{"x":-0.05,"y":0.075},{"x":0.2,"y":0.075},{"x":0.45,"y":0.075},{"x":0.7,"y":0.075},{"x":0.97,"y":0.075},{"x":1.2,"y":0.075},
{"x":-1.85,"y":0.125},{"x":-1.6,"y":0.125},{"x":-1.38,"y":0.125},{"x":-1.15,"y":0.125},{"x":-0.9,"y":0.125},{"x":-0.68,"y":0.125},{"x":-0.28,"y":0.125},{"x":-0.05,"y":0.125},{"x":0.18,"y":0.125},{"x":0.38,"y":0.125},{"x":0.6,"y":0.125},{"x":0.85,"y":0.125},{"x":1.06,"y":0.125},
{"x":-1.85,"y":0.175},{"x":-1.62,"y":0.175},{"x":-1.2,"y":0.175},{"x":-1.0,"y":0.175},{"x":-0.75,"y":0.175},{"x":-0.52,"y":0.175},{"x":-0.28,"y":0.175},{"x":0.0,"y":0.175},{"x":0.22,"y":0.175},{"x":0.42,"y":0.175},{"x":0.66,"y":0.175},{"x":0.92,"y":0.175},{"x":1.12,"y":0.175},
{"x":-1.8,"y":0.225},{"x":-1.55,"y":0.225},{"x":-1.28,"y":0.225},{"x":-1.05,"y":0.225},{"x":-0.8,"y":0.225},{"x":-0.55,"y":0.225},{"x":-0.25,"y":0.225},{"x":-0.02,"y":0.225},{"x":0.22,"y":0.225},{"x":0.46,"y":0.225},{"x":0.68,"y":0.225},{"x":0.92,"y":0.225},
{"x":-1.95,"y":0.275},{"x":-1.75,"y":0.275},{"x":-1.5,"y":0.275},{"x":-1.25,"y":0.275},{"x":-1.0,"y":0.275},{"x":-0.8,"y":0.275},{"x":-0.57,"y":0.275},{"x":-0.34,"y":0.275},{"x":-0.12,"y":0.275},{"x":0.12,"y":0.275},{"x":0.34,"y":0.275},{"x":0.57,"y":0.275},{"x":0.8,"y":0.275},{"x":1.0,"y":0.275},
{"x":-1.7,"y":0.33},{"x":-1.48,"y":0.33},{"x":-1.25,"y":0.33},{"x":-0.98,"y":0.33},{"x":-0.75,"y":0.33},{"x":-0.52,"y":0.33},{"x":-0.3,"y":0.33},{"x":-0.05,"y":0.33},{"x":0.18,"y":0.33},{"x":0.42,"y":0.33},{"x":0.68,"y":0.33},{"x":0.9,"y":0.33},{"x":1.1,"y":0.33},
{"x":-1.78,"y":0.39},{"x":-1.52,"y":0.39},{"x":-1.28,"y":0.39},{"x":-1.02,"y":0.39},{"x":-0.78,"y":0.39},{"x":-0.56,"y":0.39},{"x":-0.33,"y":0.39},{"x":-0.1,"y":0.39},{"x":0.15,"y":0.39},{"x":0.4,"y":0.39},{"x":0.62,"y":0.39},{"x":0.86,"y":0.39},{"x":1.1,"y":0.39},
{"x":-1.75,"y":0.46},{"x":-1.5,"y":0.46},{"x":-1.25,"y":0.46},{"x":-1.0,"y":0.46},{"x":-0.78,"y":0.46},{"x":-0.55,"y":0.46},{"x":-0.35,"y":0.46},{"x":0.12,"y":0.46},{"x":0.38,"y":0.46},{"x":0.62,"y":0.46},{"x":0.85,"y":0.46},{"x":1.1,"y":0.46},
{"x":-1.55,"y":0.52},{"x":-1.3,"y":0.52},{"x":-1.08,"y":0.52},{"x":-0.85,"y":0.52},{"x":-0.6,"y":0.52},{"x":-0.4,"y":0.52},{"x":0.22,"y":0.52},{"x":0.45,"y":0.52},{"x":0.68,"y":0.52},{"x":0.95,"y":0.52}
],
"Ac": [{"x":-2.67,"y":0.357},{"x":-2.0,"y":0.418},{"x":-1.32,"y":0.43},{"x":-0.645,"y":0.418},{"x":-0.03,"y":0.357},{"x":0.59,"y":0.26},{"x":1.27,"y":0.14},{"x":1.95,"y":-0.03}],
"Bc": [{"x":-1.44,"y":0.21},{"x":-0.82,"y":0.3},{"x":-0.23,"y":0.345},{"x":0.48,"y":0.36},{"x":1.3,"y":0.33},{"x":2.13,"y":0.21},{"x":2.72,"y":0.1},{"x":3.43,"y":-0.03}],
"Cc": [{"x":-3.03,"y":0.39},{"x":3.03,"y":0.205}],
"Dc": [{"x":-3.05,"y":0.295},{"x":3.05,"y":0.285}]
},
"concat": [
{
"width": 357, "height": 258,
"title": {"text": "y = 0.3 - 0.12*x-0.04*x²"},
"layer": [
{"data": {"name": "A"}, "mark": {"type": "point", "shape": "circle", "filled": false, "size": 190, "strokeWidth": 1.6, "color": "#4a6fc4", "opacity": 1},
 "encoding": {
  "x": {"field": "x", "type": "quantitative", "scale": {"domain": [-3.03, 3.03], "nice": false, "zero": false}, "axis": {"title": ["Log10 Wing area", "(cm²)"], "values": [-3,-2,-1,0,1,2,3], "labelExpr": "(datum.value < 0 ? '-' : '') + abs(datum.value)"}},
  "y": {"field": "y", "type": "quantitative", "scale": {"domain": [-0.06, 1.8], "nice": false, "zero": false}, "axis": {"title": "Arcsine%Diptera", "values": [0,0.2,0.4,0.6,0.8,1,1.2,1.4,1.6], "labelExpr": "indexof(['0.0','0.4','0.8','1.2','1.6'], format(datum.value,'.1f')) >= 0 ? format(datum.value,'.1f') : ''"}}
 }},
{"data": {"name": "Ac"}, "mark": {"type": "line", "color": "#e0604a", "strokeWidth": 2.5, "interpolate": "monotone", "clip": true},
 "encoding": {"x": {"field": "x", "type": "quantitative"}, "y": {"field": "y", "type": "quantitative"}}},
{"data": {"values": [{}]}, "mark": {"type": "text", "text": "(A)", "fontSize": 40, "fontWeight": "bold", "align": "right", "baseline": "middle", "color": "#222"},
 "encoding": {"x": {"datum": 2.85}, "y": {"datum": 1.48}}}
]
},
{
"width": 357, "height": 258,
"title": {"text": "y = 0.4+0.04*x-0.05*x²"},
"layer": [
{"data": {"name": "B"}, "mark": {"type": "point", "shape": "circle", "filled": false, "size": 190, "strokeWidth": 1.6, "color": "#4a6fc4", "opacity": 1},
 "encoding": {
  "x": {"field": "x", "type": "quantitative", "scale": {"domain": [-2, 4.3], "nice": false, "zero": false}, "axis": {"title": ["Log10 Call", "frequency (kHz)"], "values": [-2,-1,0,1,2,3,4], "labelExpr": "(datum.value < 0 ? '-' : '') + abs(datum.value)"}},
  "y": {"field": "y", "type": "quantitative", "scale": {"domain": [-0.06, 1.8], "nice": false, "zero": false}, "axis": {"title": "Arcsine%Hemip.", "values": [0,0.2,0.4,0.6,0.8,1,1.2,1.4,1.6], "labelExpr": "indexof(['0.0','0.4','0.8','1.2','1.6'], format(datum.value,'.1f')) >= 0 ? format(datum.value,'.1f') : ''"}}
 }},
{"data": {"name": "Bc"}, "mark": {"type": "line", "color": "#e0604a", "strokeWidth": 2.5, "interpolate": "monotone", "clip": true},
 "encoding": {"x": {"field": "x", "type": "quantitative"}, "y": {"field": "y", "type": "quantitative"}}},
{"data": {"values": [{}]}, "mark": {"type": "text", "text": "(B)", "fontSize": 40, "fontWeight": "bold", "align": "right", "baseline": "middle", "color": "#222"},
 "encoding": {"x": {"datum": 4.2}, "y": {"datum": 1.48}}}
]
},
{
"width": 357, "height": 258,
"title": {"text": "y = 0.3 - 0.03*x", "dx": -15},
"layer": [
{"data": {"name": "C"}, "mark": {"type": "point", "shape": "circle", "filled": false, "size": 190, "strokeWidth": 1.6, "color": "#4a6fc4", "opacity": 1},
 "encoding": {
  "x": {"field": "x", "type": "quantitative", "scale": {"domain": [-3.03, 3.03], "nice": false, "zero": false}, "axis": {"title": ["Log10 Wing area", "(cm²)"], "values": [-3,-2,-1,0,1,2,3], "labelExpr": "(datum.value < 0 ? '-' : '') + abs(datum.value)"}},
  "y": {"field": "y", "type": "quantitative", "scale": {"domain": [-0.06, 1.8], "nice": false, "zero": false}, "axis": {"title": "Arcsine%Hemip.", "values": [0,0.2,0.4,0.6,0.8,1,1.2,1.4,1.6], "labelExpr": "indexof(['0.0','0.4','0.8','1.2','1.6'], format(datum.value,'.1f')) >= 0 ? format(datum.value,'.1f') : ''"}}
 }},
{"data": {"name": "Cc"}, "mark": {"type": "line", "color": "#e0604a", "strokeWidth": 2.5, "clip": true},
 "encoding": {"x": {"field": "x", "type": "quantitative"}, "y": {"field": "y", "type": "quantitative"}}},
{"data": {"values": [{}]}, "mark": {"type": "text", "text": "(C)", "fontSize": 40, "fontWeight": "bold", "align": "right", "baseline": "middle", "color": "#222"},
 "encoding": {"x": {"datum": 2.78}, "y": {"datum": 1.52}}}
]
},
{
"width": 357, "height": 258,
"title": {"text": "y = 0.3 - 0.006*x", "dx": -10},
"layer": [
{"data": {"name": "D"}, "mark": {"type": "point", "shape": "circle", "filled": false, "size": 190, "strokeWidth": 1.6, "color": "#4a6fc4", "opacity": 1},
 "encoding": {
  "x": {"field": "x", "type": "quantitative", "scale": {"domain": [-3.05, 3.05], "nice": false, "zero": false}, "axis": {"title": ["Log10 Wing span", "(cm)"], "values": [-3,-2,-1,0,1,2,3], "labelExpr": "(datum.value < 0 ? '-' : '') + abs(datum.value)"}},
  "y": {"field": "y", "type": "quantitative", "scale": {"domain": [-0.06, 1.8], "nice": false, "zero": false}, "axis": {"title": "Arcsine%Hemip.", "values": [0,0.2,0.4,0.6,0.8,1,1.2,1.4,1.6], "labelExpr": "indexof(['0.0','0.4','0.8','1.2','1.6'], format(datum.value,'.1f')) >= 0 ? format(datum.value,'.1f') : ''"}}
 }},
{"data": {"name": "Dc"}, "mark": {"type": "line", "color": "#e0604a", "strokeWidth": 2.5, "clip": true},
 "encoding": {"x": {"field": "x", "type": "quantitative"}, "y": {"field": "y", "type": "quantitative"}}},
{"data": {"values": [{}]}, "mark": {"type": "text", "text": "(D)", "fontSize": 40, "fontWeight": "bold", "align": "right", "baseline": "middle", "color": "#222"},
 "encoding": {"x": {"datum": 2.75}, "y": {"datum": 1.53}}}
]
}
],
"config": {
 "font": "Liberation Sans",
 "view": {"stroke": "#111", "strokeWidth": 2},
 "title": {"fontSize": 29, "fontWeight": "normal", "color": "#222", "offset": -21, "anchor": "middle", "frame": "group"},
 "axis": {"grid": false, "domain": false, "ticks": true, "tickColor": "#111", "tickWidth": 2, "tickSize": -6, "labelColor": "#222", "titleColor": "#222", "titleFontWeight": "normal", "labelFlush": false, "labelOverlap": false},
 "axisX": {"labelFontSize": 30, "titleFontSize": 41, "labelPadding": 30, "titlePadding": 25, "titleLineHeight": 55},
 "axisY": {"labelFontSize": 32, "titleFontSize": 44, "labelPadding": 19, "titlePadding": 15}
}
}
